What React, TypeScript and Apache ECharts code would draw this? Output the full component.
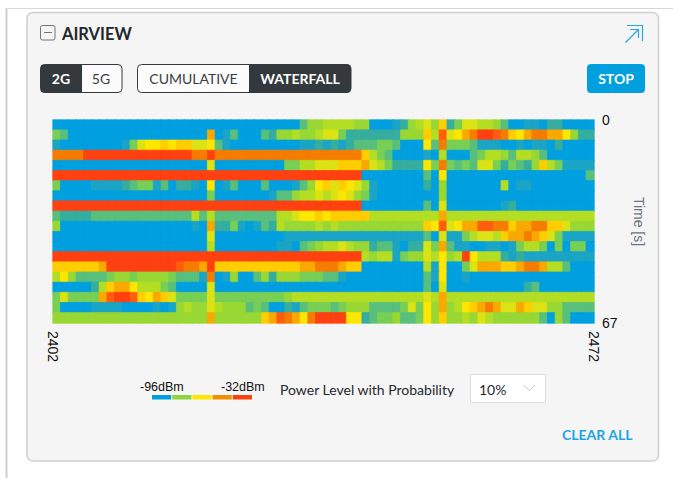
import React, { useEffect, useRef } from "react";
import * as echarts from "echarts";

// Level 0 = -96 dBm ... level 13 = -32 dBm, one list per scan, 2402 -> 2472 MHz.
const scan00 = [0,0,0,0,0,0,0,0,0,0, 0,0,0,0,0,0,0,0,0,0, 0,0,0,0,0,0,0,0,0,0, 0,0,3,5,5,6,6,6,6,5, 5,0,0,0,1,2,5,6,7,5, 9,2,4,7,7,6,6,5,3,0, 0,1,1,0,2,2,0,0,0,0];
const scan01 = [4,3,0,0,0,0,0,0,0,0, 0,0,0,0,0,0,0,0,0,0, 10,0,1,3,0,0,0,3,2,5, 5,6,5,5,6,7,7,4,2,2, 2,2,2,2,2,5,5,5,9,6, 12,7,8,10,11,13,13,12,11,9, 8,10,11,11,10,10,8,5,2,2];
const scan02 = [1,0,0,0,0,0,0,0,0,1, 4,7,8,8,9,8,9,9,7,7, 8,3,1,0,0,0,0,0,0,0, 0,0,1,1,2,1,2,1,2,3, 3,3,4,4,3,0,0,0,8,3, 11,4,4,4,3,1,1,1,0,0, 1,0,1,1,0,2,0,0,0,0];
const scan03 = [11,11,11,11,13,13,13,13,13,13, 13,13,13,13,13,13,13,13,11,11, 13,11,11,11,11,11,11,11,11,11, 11,11,11,11,11,11,11,11,11,11, 9,6,4,3,0,0,0,0,1,0, 6,0,0,0,3,4,6,6,5,3, 6,6,5,3,0,0,0,0,0,0];
const scan04 = [0,0,0,0,0,0,0,0,0,0, 0,0,0,0,0,0,0,0,0,0, 7,0,0,0,0,0,0,0,0,0, 4,4,6,6,7,7,7,9,9,9, 10,7,6,4,2,2,2,2,8,4, 11,4,3,4,3,7,7,4,2,4, 3,2,5,9,6,4,1,1,1,1];
const scan05 = [13,13,13,13,13,13,13,13,13,13, 13,13,13,13,13,13,13,13,13,13, 13,13,13,13,13,13,13,13,13,13, 13,13,13,13,13,13,13,13,13,13, 0,0,0,0,0,0,0,0,3,0, 8,0,0,0,0,0,0,0,0,0, 0,0,0,0,0,0,0,0,0,3];
const scan06 = [4,0,0,0,0,1,1,1,1,2, 3,4,4,1,3,0,2,2,1,0, 8,0,1,3,0,0,0,3,0,0, 0,1,3,5,8,9,7,9,8,7, 5,1,0,0,0,0,0,0,2,0, 5,0,0,0,0,0,0,0,6,0, 1,1,0,0,0,0,0,0,0,0];
const scan07 = [0,0,0,0,0,0,0,0,0,0, 0,0,0,0,0,0,0,0,0,0, 4,0,0,0,0,0,0,0,1,3, 3,5,6,6,7,6,7,8,7,5, 4,1,0,0,0,0,0,0,0,0, 5,0,0,0,0,0,0,0,0,0, 0,0,0,0,0,0,0,0,0,0];
const scan08 = [13,13,13,13,13,13,13,13,13,13, 13,13,13,13,13,13,13,13,13,13, 13,13,13,13,13,13,13,13,13,13, 13,13,13,13,13,13,13,13,13,13, 0,0,0,0,0,0,0,0,3,0, 7,0,0,0,0,0,0,0,1,2, 0,0,0,0,0,0,0,0,0,0];
const scan09 = [3,2,2,2,2,3,3,3,3,3, 3,3,3,3,3,3,3,3,6,3, 6,3,3,3,3,3,3,3,3,6, 6,7,8,8,9,8,9,9,9,9, 9,6,6,6,6,6,6,6,6,6, 10,6,6,6,6,6,6,6,6,6, 6,6,6,6,6,6,6,6,6,6];
const scan10 = [5,0,0,0,0,0,0,0,0,0, 0,0,0,0,0,0,0,0,1,0, 10,2,2,4,1,0,1,3,2,6, 5,5,5,5,6,5,6,5,5,5, 5,5,5,5,5,5,5,5,9,8, 12,7,8,10,10,12,12,11,11,9, 10,10,11,11,9,9,7,5,5,5];
const scan11 = [0,0,0,0,0,0,0,0,0,0, 0,0,0,0,0,0,0,0,0,0, 7,0,0,0,0,0,0,0,0,0, 1,1,1,1,1,1,1,1,1,1, 1,1,1,1,1,1,1,1,3,0, 7,1,1,4,6,7,7,6,9,10, 10,11,10,9,7,4,1,1,1,1];
const scan12 = [0,0,0,0,0,0,0,0,0,0, 0,0,0,0,0,0,0,0,0,0, 6,0,0,0,0,0,0,0,0,1, 1,0,3,4,5,6,6,7,6,5, 5,2,3,3,1,0,2,2,7,4, 10,3,1,1,0,0,1,1,0,1, 4,6,6,4,0,4,0,4,4,0];
const scan13 = [13,13,13,13,13,13,13,13,13,13, 13,13,13,13,13,13,13,13,13,13, 13,13,13,13,13,13,13,13,13,13, 13,13,13,13,13,13,13,13,13,13, 6,5,6,6,1,4,5,5,7,6, 8,5,6,13,8,6,6,6,2,1, 2,1,1,1,1,1,1,1,1,1];
const scan14 = [9,9,9,9,9,9,10,13,13,13, 13,13,13,13,13,13,12,11,11,10, 13,9,9,9,9,9,9,9,9,9, 9,9,10,10,11,11,11,10,9,9, 0,0,0,0,0,0,0,0,6,1, 8,0,0,4,7,10,10,10,9,9, 10,11,11,10,6,6,3,0,0,0];
const scan15 = [6,8,5,3,3,3,3,4,5,5, 4,5,5,5,5,4,3,3,3,1, 11,0,1,5,0,0,3,5,2,5, 5,5,4,4,4,3,3,1,0,0, 0,0,0,0,0,0,0,0,3,1, 8,0,0,1,0,0,0,0,0,0, 0,0,0,0,0,0,0,0,0,0];
const scan16 = [0,0,0,0,0,2,6,9,10,10, 8,6,6,6,4,3,0,0,0,0, 7,0,0,0,0,0,0,0,0,0, 0,0,0,0,0,0,0,0,0,0, 0,0,0,0,0,0,0,0,3,0, 7,0,0,0,0,0,0,0,0,0, 0,2,3,0,0,0,0,0,0,0];
const scan17 = [4,7,4,4,4,4,10,12,13,13, 12,9,8,10,9,7,4,4,4,4, 7,4,4,4,4,4,4,4,4,4, 5,6,6,6,6,6,6,6,6,6, 6,6,6,6,6,6,6,6,7,6, 10,6,6,6,6,6,6,6,6,6, 6,6,6,6,6,6,6,6,6,6];
const scan18 = [4,0,0,0,0,1,1,1,1,0, 0,0,0,1,0,1,5,6,5,5, 7,6,5,5,5,3,4,3,0,0, 2,1,3,4,4,4,3,4,5,5, 5,3,3,3,3,4,7,4,8,5, 10,5,6,8,9,10,11,10,7,7, 10,9,7,7,5,5,3,3,3,3];
const scan19 = [5,5,5,5,5,5,5,5,5,5, 5,5,5,5,5,5,5,5,5,5, 10,5,5,5,5,5,5,9,10,12, 11,10,8,11,13,13,13,13,8,8, 2,3,4,4,5,3,3,4,8,5, 9,5,5,6,5,7,6,5,5,5, 5,5,5,3,0,5,3,0,0,0];

const scans = [scan00, scan01, scan02, scan03, scan04, scan05, scan06, scan07, scan08, scan09, scan10, scan11, scan12, scan13, scan14, scan15, scan16, scan17, scan18, scan19];
const levelColors = ["#009fe0", "#1aa5c6", "#35ad9f", "#58bf7c", "#78cf55", "#99d834", "#b4de24", "#dbe314", "#ffe600", "#ffcd00", "#f8a800", "#f57c00", "#ff5c0e", "#ff4010"];
const legendColors = ["#009fe0", "#8fd43c", "#ffe600", "#f29100", "#ff4010"];
const channelTicks = [2402, 2472];
const timeTicks = [0, 67];

const sans = "Lato, 'Liberation Sans', sans-serif";
const plain = "'Liberation Sans', sans-serif";

function btnRect(x: number, y: number, w: number, h: number, r: any, fill: string, stroke = "#34393e") {
  return { type: "rect", silent: true, shape: { x, y, width: w, height: h, r }, style: { fill, stroke, lineWidth: 1 } };
}
function label(x: number, y: number, text: string, fill: string, size: number, weight: any = 400, font = sans, align = "center") {
  return { type: "text", silent: true, x, y, style: { text, fill, fontSize: size, fontWeight: weight, fontFamily: font, align, verticalAlign: "middle" } };
}
function stroke(type: string, shape: any, color: string, lineWidth = 1) {
  return { type, silent: true, shape, style: { stroke: color, fill: "none", lineWidth } };
}

export default function App() {
  const ref = useRef<HTMLDivElement>(null);
  useEffect(() => {
    document.body.style.margin = "0";
    const chart = echarts.init(ref.current!, undefined, { renderer: "svg" });
    const data: any[] = [];
    scans.forEach((row, y) =>
      row.forEach((v, x) => {
        data.push({ value: [x, y, v], itemStyle: { borderColor: levelColors[v], borderWidth: 0.7 } });
      })
    );
    chart.setOption({
      animation: false,
      backgroundColor: "#ffffff",
      grid: { left: 53, top: 120, width: 541, height: 203, containLabel: false },
      xAxis: [
        { type: "category", data: scan00.map((_, i) => 2402 + i), show: false },
        {
          type: "value", min: channelTicks[0], max: channelTicks[1], position: "bottom",
          axisLine: { show: false }, axisTick: { show: false }, splitLine: { show: false },
          axisLabel: { customValues: channelTicks, formatter: (v: number) => String(v), rotate: -90, margin: 8, color: "#111", fontSize: 14, fontFamily: plain, hideOverlap: false, showMinLabel: true, showMaxLabel: true },
        },
      ],
      yAxis: [
        { type: "category", data: scans.map((_, i) => i), inverse: true, show: false },
        {
          type: "value", min: timeTicks[0], max: timeTicks[1], interval: 67, inverse: true, position: "right",
          axisLine: { show: false }, axisTick: { show: false }, splitLine: { show: false },
          axisLabel: { margin: 8, color: "#111", fontSize: 14, fontFamily: plain },
          name: "Time [s]", nameLocation: "middle", nameRotate: -90, nameGap: 38,
          nameTextStyle: { color: "#6c7584", fontSize: 14, fontFamily: plain },
        },
      ],
      visualMap: { show: false, type: "continuous", min: 0, max: 13, dimension: 2, seriesIndex: 0, inRange: { color: levelColors } },
      series: [{ type: "heatmap", data, xAxisIndex: 0, yAxisIndex: 0, silent: true, emphasis: { disabled: true } }],
      graphic: { elements: [
        { type: "group", z: -1, silent: true, children: [
          stroke("line", { x1: 6.5, y1: 8, x2: 6.5, y2: 478 }, "#cfcfcf", 2),
          stroke("line", { x1: 6, y1: 8.5, x2: 673, y2: 8.5 }, "#d8d8d8", 1),
          { type: "rect", shape: { x: 27, y: 12.5, width: 631.5, height: 448.5, r: 6 }, style: { fill: "#f5f5f5", stroke: "#cfcfcf", lineWidth: 1.5 } },
        ] },
        { type: "group", silent: true, children: [
          { type: "rect", shape: { x: 40.5, y: 25.5, width: 14.5, height: 14.5, r: 2 }, style: { fill: "none", stroke: "#70757b", lineWidth: 1 } },
          stroke("line", { x1: 44, y1: 32.5, x2: 52, y2: 32.5 }, "#70757b"),
          label(62, 33.5, "AIRVIEW", "#24282d", 16.5, 700, sans, "left"),
          btnRect(40.5, 64.5, 41, 28, [4, 0, 0, 4], "#34393e"),
          btnRect(81.5, 64.5, 40.5, 28, [0, 4, 4, 0], "#fbfbfb"),
          label(61, 78.5, "2G", "#ffffff", 14, 700),
          label(101, 78.5, "5G", "#3a3f44", 14, 400),
          btnRect(137.5, 64.5, 112, 28, [4, 0, 0, 4], "#fbfbfb"),
          btnRect(249.5, 64.5, 101.5, 28, [0, 4, 4, 0], "#34393e"),
          label(193.5, 78.5, "CUMULATIVE", "#3a3f44", 14, 400),
          label(300, 78.5, "WATERFALL", "#ffffff", 14, 700),
          { type: "rect", shape: { x: 587, y: 64, width: 58, height: 29, r: 4 }, style: { fill: "#00a0df" } },
          label(616, 78.5, "STOP", "#ffffff", 14, 700),
          stroke("polyline", { points: [[627, 25.5], [642.5, 25.5], [642.5, 41]] }, "#2ca5e0", 1.2),
          stroke("line", { x1: 625.5, y1: 42.5, x2: 638, y2: 30 }, "#2ca5e0", 1.2),
          stroke("polyline", { points: [[630, 29.5], [638.5, 29.5], [638.5, 38]] }, "#2ca5e0", 1.2),
          label(140, 387, "-96dBm", "#111111", 12.5, 400, plain, "left"),
          label(221, 387, "-32dBm", "#111111", 12.5, 400, plain, "left"),
          ...legendColors.map((c, i) => ({ type: "rect", shape: { x: 152 + i * 20.2, y: 395, width: 19.2, height: 4.5 }, style: { fill: c } })),
          label(280, 389, "Power Level with Probability", "#25292e", 14, 400, sans, "left"),
          { type: "rect", shape: { x: 470.5, y: 374.5, width: 75, height: 28 }, style: { fill: "#ffffff", stroke: "#d9dee2", lineWidth: 1 } },
          label(479, 389, "10%", "#25292e", 14, 400, sans, "left"),
          stroke("polyline", { points: [[524, 385], [529.5, 390.5], [535, 385]] }, "#c6cbd0", 1),
          label(562, 434, "CLEAR ALL", "#1ba5e3", 14, 700, sans, "left"),
        ] },
      ] },
    });
    return () => chart.dispose();
  }, []);
  return <div ref={ref} style={{ width: 673, height: 478 }} />;
}
